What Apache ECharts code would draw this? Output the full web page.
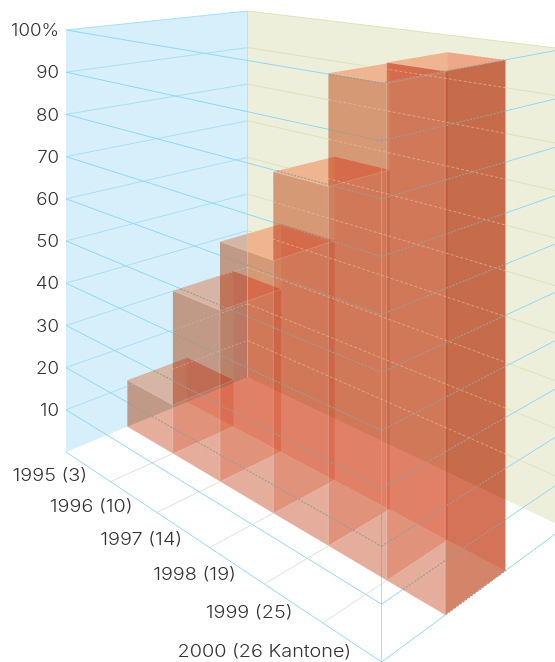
<!DOCTYPE html>
<html>
<head>
<meta charset="utf-8">
<title>Kantone</title>
<style>
	html,body{margin:0;padding:0;background:#fff;}
	#chart{width:555px;height:662px;}
</style>
</head>
<body>
<div id="chart"></div>
<script src="https://cdn.jsdelivr.net/npm/echarts@6/dist/echarts.min.js"></script>
<script>
	// data
	const categories = ['1995 (3)','1996 (10)','1997 (14)','1998 (19)','1999 (25)','2000 (26 Kantone)']
	const shares = [11.5,38.5,54,73,96,100]
	const levels = [0,10,20,30,40,50,60,70,80,90,100]

	// box corners: x, floor y, height of the full 100%
	const cornerA = [66,452,422]
	const cornerB = [247.5,377,366]
	const cornerD = [381.5,662,579]
	// right corner follows from the other three
	const wA = 1/cornerA[2], wB = 1/cornerB[2], wD = 1/cornerD[2]
	const wC = wB+wD-wA
	const cornerC = [(wB*cornerB[0]+wD*cornerD[0]-wA*cornerA[0])/wC,(wB*cornerB[1]+wD*cornerD[1]-wA*cornerA[1])/wC,1/wC]

	// the category bands are not evenly spaced in the drawing
	const depthEdges = [0,.184,.357,.534,.699,.857,1]
	const barV0 = .307, barV1 = .636
	const labelFont = '300 17px Inter'

	const project = (u,v,h)=>{
		const a = (1-u)*(1-v)*wA, b = (1-u)*v*wB, d = u*(1-v)*wD, c = u*v*wC
		const sum = a+b+c+d
		const x = (a*cornerA[0]+b*cornerB[0]+c*cornerC[0]+d*cornerD[0])/sum
		const y = (a*cornerA[1]+b*cornerB[1]+c*cornerC[1]+d*cornerD[1])/sum
		return [x,y-h/sum]
	}
	const depthAt = s=>{
		const k = s*categories.length
		const lo = Math.min(Math.floor(k+1e-6),categories.length-1)
		return depthEdges[lo]+(k-lo)*(depthEdges[lo+1]-depthEdges[lo])
	}
	// u range and height of a category/value pair
	const readAxes = (params,api,value)=>{
		const cs = params.coordSys
		const base = api.coord([api.value(0),0])
		const band = api.size([1,0])[0]
		const s0 = (base[0]-band/2-cs.x)/cs.width
		return {
			u0:depthAt(s0),
			u1:depthAt(s0+band/cs.width),
			h:(base[1]-api.coord([api.value(0),value])[1])/cs.height
		}
	}
	// the original lettering is wider than any installed face, so stretch it
	const wideText = (text,x,y,stretch)=>({
		type:'text',
		x:x,
		y:y,
		scaleX:stretch,
		style:{
			text:text,
			x:0,
			y:0,
			align:'right',
			verticalAlign:'middle',
			fill:'#333',
			font:labelFont
		}
	})

	const barOutlines = []
	const face = (pts,fill)=>({
		type:'polygon',
		shape:{points:pts},
		style:{fill:fill}
	})
	const renderBar = (params,api)=>{
		const {u0,u1,h} = readAxes(params,api,api.value(1))
		const p = project
		const last = api.value(0)===categories.length-1
		const faces = [
			face([p(u0,barV1,0),p(u1,barV1,0),p(u1,barV1,h),p(u0,barV1,h)],'rgb(255,222,212)'),
			face([p(u0,barV0,0),p(u0,barV1,0),p(u0,barV1,h),p(u0,barV0,h)],'rgb(255,240,225)'),
			face([p(u0,barV0,h),p(u1,barV0,h),p(u1,barV1,h),p(u0,barV1,h)],'rgb(255,205,190)'),
			face([p(u1,barV0,0),p(u1,barV1,0),p(u1,barV1,h),p(u1,barV0,h)],last?'rgb(212,132,104)':'rgb(250,230,227)'),
			face([p(u0,barV0,0),p(u1,barV0,0),p(u1,barV0,h),p(u0,barV0,h)],'rgb(229,174,156)')
		]
		barOutlines[api.value(0)] = [p(u0,barV0,0),p(u1,barV0,0),p(u1,barV1,0),p(u1,barV1,h),p(u0,barV1,h),p(u0,barV0,h)]
		return {type:'group',children:faces}
	}
	// pale seams on top of the multiplied faces
	const renderSeams = (params,api)=>{
		const {u0,u1,h} = readAxes(params,api,api.value(1))
		const p = project
		const seam = (a,b,w)=>({
			type:'line',
			shape:{x1:a[0],y1:a[1],x2:b[0],y2:b[1]},
			style:{stroke:'rgba(255,255,255,.18)',lineWidth:w}
		})
		return {type:'group',children:[
			seam(p(u0,barV0,0),p(u1,barV0,0),.8),
			seam(p(u1,barV0,0),p(u1,barV1,0),.8),
			seam(p(u1,barV0,0),p(u1,barV0,h),1),
			seam(p(u0,barV0,h),p(u1,barV0,h),.8),
			seam(p(u1,barV0,h),p(u1,barV1,h),.8)
		]}
	}

	const insideBars = pt=>barOutlines.some(poly=>{
		let sign = 0
		for(let i=0;i<poly.length;i++){
			const a = poly[i], b = poly[(i+1)%poly.length]
			const c = (b[0]-a[0])*(pt[1]-a[1])-(b[1]-a[1])*(pt[0]-a[0])
			if(c===0) continue
			if(sign===0) sign = Math.sign(c)
			else if(Math.sign(c)!==sign) return false
		}
		return true
	})
	// solid outside the bars, dotted where the line crosses them
	const gridLine = (from,to,kind)=>{
		const out = []
		const len = Math.hypot(to[0]-from[0],to[1]-from[1])
		const steps = Math.max(1,Math.ceil(len))
		let start = from, state = insideBars(from)
		const push = end=>out.push({
			type:'line',
			shape:{x1:start[0],y1:start[1],x2:end[0],y2:end[1]},
			style:state?{stroke:kind.inside,lineWidth:kind.insideWidth||1,lineDash:kind.dash}:{stroke:kind.color,lineWidth:1}
		})
		for(let i=1;i<=steps;i++){
			const pt = [from[0]+(to[0]-from[0])*i/steps,from[1]+(to[1]-from[1])*i/steps]
			const now = insideBars(pt)
			if(now!==state||i===steps){
				push(pt)
				start = pt
				state = now
			}
		}
		return out
	}
	const leftKind = {color:'#a9e0f7',inside:'rgba(208,190,178,.6)',dash:[2,2]}
	const backKind = {color:'#dfe3b6',inside:'rgba(228,195,165,.6)',dash:[3,2]}
	const frontKind = {color:'#8fd9f7',inside:'#9d9c97',insideWidth:1.2,dash:[2,1.5]}
	const edgeKind = {color:'#a6e0f8',inside:'#a8a69c',dash:null}
	const cornerKind = {color:'#b9e4ef',inside:'rgba(205,195,185,.6)',dash:null}

	const renderLevel = (params,api)=>{
		const cs = params.coordSys
		const value = api.value(0)
		const pos = api.coord([0,value])
		const h = (cs.y+cs.height-pos[1])/cs.height
		const pA = project(0,0,h), pB = project(0,1,h), pC = project(1,1,h), pD = project(1,0,h)
		let children = []
		if(value>0){
			children = children.concat(gridLine(pA,pB,leftKind),gridLine(pB,pC,backKind))
			children.push(wideText(value===100?'100%':String(value),cs.x-7,pos[1]+1,1.1))
		}
		children = children.concat(gridLine(pA,pD,frontKind),gridLine(pD,pC,frontKind))
		if(value===0){
			// the two upright edges inside the picture
			children = children.concat(gridLine(project(0,1,0),project(0,1,1),cornerKind))
			children = children.concat(gridLine(project(1,0,0),project(1,0,1),edgeKind))
		}
		return {type:'group',children:children}
	}

	const renderFloor = (params,api)=>{
		const {u0,u1} = readAxes(params,api,0)
		const i = api.value(0)
		const a = project(u0,0,0), b = project(u1,0,0)
		const children = [wideText(categories[i],(a[0]+b[0])/2-1,(a[1]+b[1])/2+9.5,1.165)]
		if(i>0){
			const end = project(u0,barV0,0)
			children.push({
				type:'line',
				shape:{x1:a[0],y1:a[1],x2:end[0],y2:end[1]},
				style:{stroke:'#e0e0e0',lineWidth:1}
			})
		}
		return {type:'group',children:children}
	}

	const renderWalls = ()=>({
		type:'group',
		children:[
			{
				type:'polygon',
				shape:{points:[project(0,0,0),project(0,1,0),project(0,1,1),project(0,0,1)]},
				style:{fill:'#d6effb'}
			},
			{
				type:'polygon',
				shape:{points:[project(0,1,0),project(1,1,0),project(1,1,1),project(0,1,1)]},
				style:{fill:'#eeefdb'}
			}
		]
	})

	const chart = echarts.init(document.getElementById('chart'),null,{renderer:'canvas'})
	chart.setOption({
		backgroundColor:'#fff',
		animation:false,
		grid:{left:66,top:30,width:315,height:422},
		xAxis:{type:'category',data:categories,show:false},
		yAxis:{
			type:'value',
			min:0,
			max:100,
			interval:10,
			axisLine:{show:true,lineStyle:{color:'#a9e0f7',width:1}},
			axisTick:{show:false},
			splitLine:{show:false},
			axisLabel:{show:false}
		},
		series:[
			{type:'custom',name:'walls',z:1,silent:true,clip:false,renderItem:renderWalls,data:[0]},
			{type:'custom',name:'floor',z:2,silent:true,clip:false,renderItem:renderFloor,data:categories.map((c,i)=>[i])},
			{type:'custom',name:'bars',z:3,silent:true,clip:false,blendMode:'multiply',renderItem:renderBar,data:shares.map((v,i)=>[i,v])},
			{type:'custom',name:'seams',z:4,silent:true,clip:false,renderItem:renderSeams,data:shares.map((v,i)=>[i,v])},
			{type:'custom',name:'levels',z:5,silent:true,clip:false,renderItem:renderLevel,data:levels.map(v=>[v])}
		]
	})
</script>
</body>
</html>
